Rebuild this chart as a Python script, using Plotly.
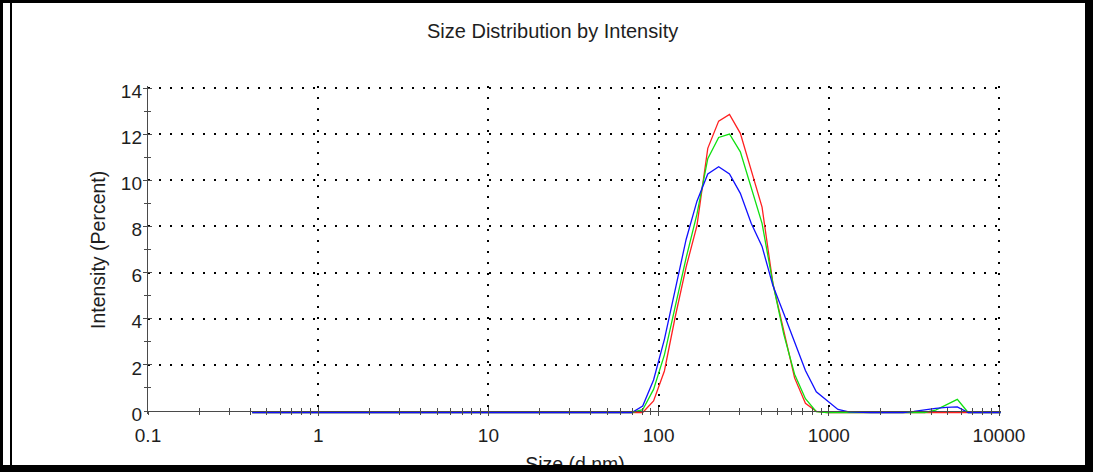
import plotly.graph_objects as go

# ---------------- data ----------------
sizes_nm = [0.4, 0.4632, 0.5365, 0.6213, 0.7195, 0.8332, 0.9649, 1.117, 1.294, 1.499,
            1.736, 2.01, 2.328, 2.696, 3.122, 3.615, 4.187, 4.849, 5.615, 6.503,
            7.531, 8.721, 10.1, 11.7, 13.54, 15.69, 18.17, 21.04, 24.36, 28.21,
            32.67, 37.84, 43.82, 50.75, 58.77, 68.06, 78.82, 91.28, 105.7, 122.4,
            141.8, 164.2, 190.1, 220.2, 255.0, 295.3, 342.0, 396.1, 458.7, 531.2,
            615.1, 712.4, 825.0, 955.4, 1106, 1281, 1484, 1718, 1990, 2305,
            2669, 3091, 3580, 4145, 4801, 5560, 6439, 7456, 8635, 10000]

red_pct = [0, 0, 0, 0, 0, 0, 0, 0, 0, 0,
           0, 0, 0, 0, 0, 0, 0, 0, 0, 0,
           0, 0, 0, 0, 0, 0, 0, 0, 0, 0,
           0, 0, 0, 0, 0, 0, 0.0, 0.5, 1.8, 4.15,
           6.3, 8.1, 11.45, 12.63, 12.92, 12.1, 10.5, 8.9, 5.6, 3.5,
           1.5, 0.4, 0.05, 0.0, 0, 0, 0, 0, 0, 0,
           0, 0, 0, 0, 0, 0, 0, 0, 0, 0]

green_pct = [0, 0, 0, 0, 0, 0, 0, 0, 0, 0,
             0, 0, 0, 0, 0, 0, 0, 0, 0, 0,
             0, 0, 0, 0, 0, 0, 0, 0, 0, 0,
             0, 0, 0, 0, 0, 0, 0.12, 1.0, 2.5, 4.67,
             6.7, 8.6, 11.0, 11.92, 12.07, 11.3, 9.78, 8.2, 5.6, 3.4,
             1.66, 0.6, 0.04, 0.0, 0, 0, 0, 0, 0, 0,
             0, 0, 0, 0.1, 0.33, 0.57, 0, 0, 0, 0]

blue_pct = [0, 0, 0, 0, 0, 0, 0, 0, 0, 0,
            0, 0, 0, 0, 0, 0, 0, 0, 0, 0,
            0, 0, 0, 0, 0, 0, 0, 0, 0, 0,
            0, 0, 0, 0, 0, 0, 0.28, 1.41, 3.17, 5.34,
            7.5, 9.16, 10.34, 10.65, 10.34, 9.5, 8.2, 7.2, 5.5, 4.29,
            3.01, 1.82, 0.9, 0.5, 0.13, 0.03, 0, 0, 0, 0,
            0, 0.05, 0.12, 0.18, 0.22, 0.24, 0, 0, 0, 0]

x_tick_vals = [0.1, 1, 10, 100, 1000, 10000]
x_tick_text = ["0.1", "1", "10", "100", "1000", "10000"]
y_tick_vals = [0, 2, 4, 6, 8, 10, 12, 14]
y_tick_text = ["0", "2", "4", "6", "8", "10", "12", "14"]

title_text = "Size Distribution by Intensity"
x_title = "Size (d.nm)"
y_title = "Intensity (Percent)"

# ---------------- layout helpers ----------------
W, H = 1093, 472


def fx(p):
    return p / W


def fy(p):
    return 1 - p / H


FONT = "Liberation Sans, Arial, sans-serif"
TXT = "#1e1e1e"
AX = "#4a4a4a"

# pixel geometry: 0.1 -> 148 px, 10000 -> 999 px ; 0 -> 411 px, 14 -> 88 px
PX_DEC = (999 - 148) / 5.0
PX_UNIT = (411 - 88) / 14.0
X_L, X_R = 148, 1001          # plot area (2 px past the last gridline)
Y_T, Y_B = 86, 414
xr = [-1, 4 + (X_R - 999) / PX_DEC]
yr = [-(Y_B - 411) / PX_UNIT, 14 + (88 - Y_T) / PX_UNIT]
# data drawn ~1.7 px right and ~1.5 px lower than the axes (as in the reference)
xr_data = [xr[0] - 1.7 / PX_DEC, xr[1] - 1.7 / PX_DEC]
yr_data = [yr[0] + 1.5 / PX_UNIT, yr[1] + 1.5 / PX_UNIT]

x_minor = [m * 10 ** e for e in range(-1, 4) for m in range(2, 10)]
y_minor = [v for v in range(1, 14, 2)]

fig = go.Figure()

fig.add_trace(go.Scatter(x=[1], y=[0], mode="lines", xaxis="x", yaxis="y",
                         hoverinfo="skip", showlegend=False))
fig.add_trace(go.Scatter(x=[1], y=[0], mode="lines", xaxis="x2", yaxis="y3",
                         hoverinfo="skip", showlegend=False))

for vals, col in ((red_pct, "#ff2020"), (green_pct, "#10e010"), (blue_pct, "#1010ff")):
    fig.add_trace(go.Scatter(x=sizes_nm, y=vals, mode="lines", xaxis="x4", yaxis="y2",
                             line=dict(color=col, width=1.3), hoverinfo="skip",
                             showlegend=False))

fig.add_trace(go.Scatter(x=[575], y=[466.5], mode="text", text=[x_title],
                         textposition="middle center", xaxis="x3", yaxis="y4",
                         textfont=dict(family=FONT, size=19.5, color=TXT),
                         cliponaxis=True, hoverinfo="skip", showlegend=False))

xdom = [fx(X_L), fx(X_R)]
ydom = [fy(Y_B), fy(Y_T)]
xpos = fy(411)

common_x = dict(type="log", domain=xdom, automargin=False, fixedrange=True, zeroline=False)
common_y = dict(domain=ydom, automargin=False, fixedrange=True, zeroline=False)

fig.update_layout(
    template="none",
    width=W, height=H,
    margin=dict(l=0, r=0, t=0, b=0, pad=0, autoexpand=False),
    paper_bgcolor="white", plot_bgcolor="white",
    showlegend=False,
    xaxis=dict(**common_x, range=xr, anchor="free", position=xpos,
               tickmode="array", tickvals=x_tick_vals[1:], showticklabels=False,
               ticks="outside", ticklen=4, tickwidth=1, tickcolor=AX,
               showline=True, linecolor=AX, linewidth=1,
               showgrid=True, gridcolor="black", gridwidth=2, griddash="2px,9px",
               minor=dict(tickmode="array", tickvals=[0.1] + x_minor, ticks="outside",
                          ticklen=3, tickcolor=AX, tickwidth=1, showgrid=False)),
    xaxis2=dict(**common_x, range=xr, overlaying="x", anchor="free",
                position=xpos, side="bottom",
                tickmode="array", tickvals=x_tick_vals, ticktext=x_tick_text,
                ticks="inside", ticklen=4, tickwidth=1, tickcolor=AX,
                tickfont=dict(family=FONT, size=19, color=TXT),
                ticklabelstandoff=11,
                showline=False, showgrid=False,
                minor=dict(tickmode="array", tickvals=x_minor, ticks="inside",
                           ticklen=3, tickcolor=AX, tickwidth=1, showgrid=False)),
    xaxis3=dict(domain=[0, 1], range=[0, W], anchor="y4", visible=False,
                automargin=False, fixedrange=True),
    xaxis4=dict(**common_x, range=xr_data, overlaying="x", anchor="y", visible=False),
    yaxis=dict(**common_y, range=yr, anchor="x",
               tickmode="array", tickvals=y_tick_vals[1:], showticklabels=False,
               ticks="outside", ticklen=4, tickwidth=1, tickcolor=AX,
               showline=True, linecolor=AX, linewidth=1,
               showgrid=True, gridcolor="black", gridwidth=2, griddash="2px,9px",
               minor=dict(tickmode="array", tickvals=[0] + y_minor, ticks="outside",
                          ticklen=3, tickcolor=AX, tickwidth=1, showgrid=False)),
    yaxis2=dict(**common_y, range=yr_data, overlaying="y", anchor="x", visible=False),
    yaxis3=dict(**common_y, range=yr, overlaying="y", anchor="x", side="left",
                tickmode="array", tickvals=y_tick_vals, ticktext=y_tick_text,
                ticks="inside", ticklen=4, tickwidth=1, tickcolor=AX,
                tickfont=dict(family=FONT, size=19, color=TXT),
                ticklabelshift=3, ticklabelstandoff=5,
                showline=False, showgrid=False,
                minor=dict(tickmode="array", tickvals=y_minor, ticks="inside",
                           ticklen=3, tickcolor=AX, tickwidth=1, showgrid=False)),
    yaxis4=dict(domain=[fy(465), fy(440)], range=[465, 440], anchor="x3", visible=False,
                automargin=False, fixedrange=True),
    annotations=[
        dict(text=title_text, x=fx(552), y=fy(31), xref="paper", yref="paper",
             xanchor="center", yanchor="middle", showarrow=False,
             font=dict(family=FONT, size=20, color=TXT)),
        dict(text=y_title, x=fx(98), y=fy(250), xref="paper", yref="paper",
             xanchor="center", yanchor="middle", showarrow=False, textangle=-90,
             font=dict(family=FONT, size=19.5, color=TXT)),
    ],
    shapes=[
        dict(type="rect", xref="paper", yref="paper", x0=0, x1=1, y0=fy(3), y1=1,
             fillcolor="black", line=dict(width=0), layer="above"),
        dict(type="rect", xref="paper", yref="paper", x0=0, x1=1, y0=0, y1=fy(465),
             fillcolor="black", line=dict(width=0), layer="above"),
        dict(type="rect", xref="paper", yref="paper", x0=0, x1=fx(3), y0=0, y1=1,
             fillcolor="black", line=dict(width=0), layer="above"),
        dict(type="rect", xref="paper", yref="paper", x0=fx(10), x1=fx(12), y0=fy(465), y1=fy(3),
             fillcolor="black", line=dict(width=0), layer="above"),
        dict(type="rect", xref="paper", yref="paper", x0=fx(1085), x1=1, y0=0, y1=1,
             fillcolor="black", line=dict(width=0), layer="above"),
    ],
)

fig.write_html("out.html", config={"displayModeBar": False})
